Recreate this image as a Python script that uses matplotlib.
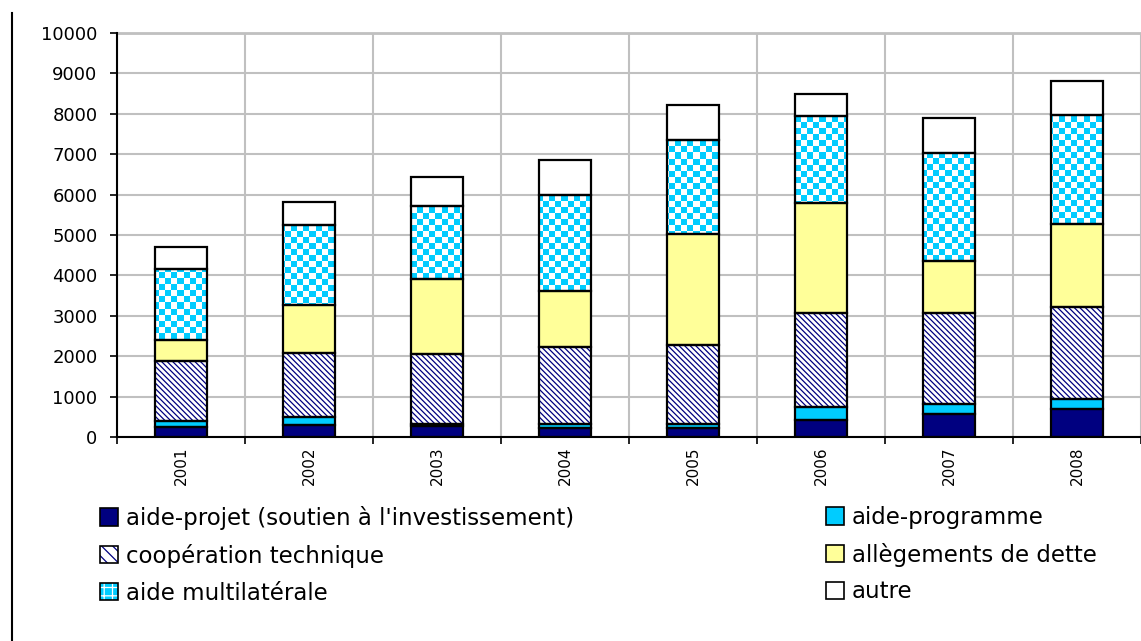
"""
Stacked bars of aid by instrument, 2001-2008.
"""

import matplotlib
matplotlib.use("Agg")
import matplotlib.pyplot as plt
import numpy as np
from matplotlib.lines import Line2D
from matplotlib.patches import Patch

years = ["2001", "2002", "2003", "2004", "2005", "2006", "2007", "2008"]

aide_projet = [240, 290, 270, 230, 230, 410, 580, 700]
aide_programme = [160, 200, 60, 90, 80, 340, 240, 240]
cooperation = [1490, 1600, 1730, 1900, 1960, 2320, 2250, 2290]
allegements = [500, 1170, 1850, 1400, 2760, 2720, 1280, 2030]
multilaterale = [1780, 1980, 1820, 2360, 2330, 2160, 2680, 2720]
autre = [540, 580, 710, 870, 870, 540, 860, 820]

labels = [
    "aide-projet (soutien à l'investissement)",
    "aide-programme",
    "coopération technique",
    "allègements de dette",
    "aide multilatérale",
    "autre",
]

NAVY = "#000080"
CYAN = "#00CCFF"
YELLOW = "#FFFF99"
GRID = "#C0C0C0"

plt.rcParams["font.family"] = ["DejaVu Sans"]
plt.rcParams["hatch.linewidth"] = 0.9

fig = plt.figure(figsize=(11.41, 6.41), dpi=100)
W, H = 1141, 641
ax = fig.add_axes([117 / W, 1 - 437 / H, 1024 / W, 404 / H])

x = np.arange(len(years))
width = 0.41
series = [aide_projet, aide_programme, cooperation, allegements, multilaterale, autre]
bottoms = np.zeros(len(years))
bars = []
for i, vals in enumerate(series):
    kw = dict(linewidth=0, zorder=2)
    if i == 0:
        kw.update(color=NAVY)
    elif i == 1:
        kw.update(color=CYAN)
    elif i == 2:
        kw.update(facecolor="white", edgecolor=NAVY, hatch="\\" * 6)
    elif i == 3:
        kw.update(color=YELLOW)
    else:
        kw.update(color="white")
    b = ax.bar(x, vals, width, bottom=bottoms, **kw)
    bars.append((b, bottoms.copy()))
    bottoms += np.array(vals)

# checkerboard fill for the multilateral segments, clipped to each bar
ax.set_xlim(-0.5, len(years) - 0.5)
ax.set_ylim(0, 10000)
cell = 6
nx, ny = int(1024 / cell) + 1, int(404 / cell) + 1
checker = (np.add.outer(np.arange(ny), np.arange(nx)) % 2).astype(float)
cmap = matplotlib.colors.ListedColormap(["white", CYAN])
for patch in bars[4][0]:
    im = ax.imshow(checker, cmap=cmap, extent=[0, nx * cell / 1024, 1 - ny * cell / 404, 1],
                   transform=ax.transAxes, interpolation="nearest", zorder=2.1,
                   aspect="auto", origin="upper")
    im.set_clip_path(patch)

# black outlines on every segment
for (b, bot), vals in zip(bars, series):
    ax.bar(x, vals, width, bottom=bot, fill=False, edgecolor="black",
           linewidth=1.6, zorder=3)

ax.set_xlim(-0.5, len(years) - 0.5)
ax.set_ylim(0, 10000)
ax.set_yticks(np.arange(0, 10001, 1000))
ax.tick_params(axis="y", direction="out", length=5, width=1.2, pad=9, labelsize=13)
ax.set_xticks(x)
ax.set_xticklabels(years, rotation=90, fontsize=11)
ax.tick_params(axis="x", length=0, pad=7)
ax.set_xticks(np.arange(-0.5, len(years)), minor=True)
ax.tick_params(axis="x", which="minor", direction="out", length=5, width=1.2)

ax.grid(True, which="minor", axis="x", color=GRID, linewidth=1.5, zorder=0)
ax.grid(True, which="major", axis="y", color=GRID, linewidth=1.5, zorder=0)
ax.set_axisbelow(True)
for side in ["top", "right"]:
    ax.spines[side].set_visible(False)
for side in ["left", "bottom"]:
    ax.spines[side].set_linewidth(1.5)
    ax.spines[side].set_color("black")
ax.axhline(10000, color=GRID, linewidth=2, zorder=0, clip_on=False)

# legend handles
outline = Patch(facecolor="none", edgecolor="black", linewidth=1.2)
h_projet = Patch(facecolor=NAVY, edgecolor="black", linewidth=1.2)
h_prog = Patch(facecolor=CYAN, edgecolor="black", linewidth=1.2)
h_coop = (Patch(facecolor="white", edgecolor=NAVY, hatch="\\\\\\", linewidth=0), outline)
h_dette = Patch(facecolor=YELLOW, edgecolor="black", linewidth=1.2)
h_multi = (Patch(facecolor=CYAN, edgecolor="white", hatch="++", linewidth=0), outline)
h_autre = Patch(facecolor="white", edgecolor="black", linewidth=1.2)

leg_kw = dict(frameon=False, fontsize=16.5, handlelength=0.78, handleheight=0.78,
              handletextpad=0.35, labelspacing=0.6, borderpad=0, borderaxespad=0,
              loc="upper left", bbox_transform=fig.transFigure)
leg1 = fig.legend([h_projet, h_coop, h_multi], [labels[0], labels[2], labels[4]],
                  bbox_to_anchor=(100 / W, 1 - 506 / H), **leg_kw)
leg2 = fig.legend([h_prog, h_dette, h_autre], [labels[1], labels[3], labels[5]],
                  bbox_to_anchor=(826 / W, 1 - 506 / H), **leg_kw)

# left border line of the chart frame
fig.add_artist(Line2D([11.5 / W, 11.5 / W], [0, 1 - 13 / H], color="black",
                      linewidth=1.5, transform=fig.transFigure))

fig.savefig("out.png", dpi=100)
